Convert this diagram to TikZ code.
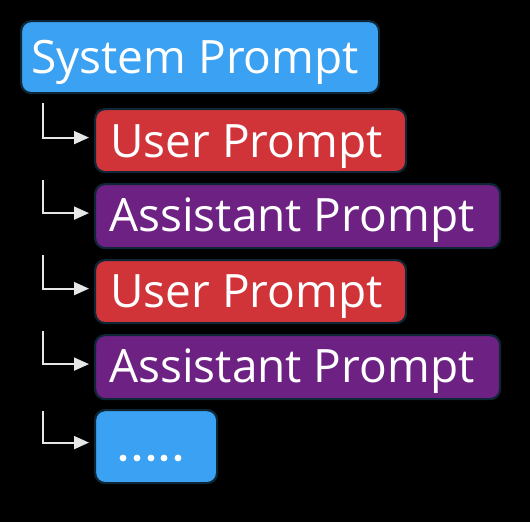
\documentclass[tikz,border=0pt]{standalone}
\usepackage{fontspec}
\setmainfont{Open Sans}
\usetikzlibrary{arrows.meta}
\definecolor{sysblue}{HTML}{3BA1F2}
\definecolor{userred}{HTML}{D13438}
\definecolor{asstpurple}{HTML}{6D2183}
\definecolor{edge}{HTML}{0E2636}
\definecolor{linkgray}{HTML}{E6E6E6}
\begin{document}
\begin{tikzpicture}[x=1pt,y=-1pt,
  box/.style={draw=edge, line width=2.2pt, rounded corners=10pt, inner sep=0pt, anchor=north west},
  label/.style={anchor=base west, inner sep=0pt, text=white, font=\fontsize{46}{52}\selectfont},
  link/.style={draw=linkgray, line width=1.8pt, -{Triangle[length=15pt,width=13pt]}}
]
\fill[black] (0,0) rectangle (530,522);
\useasboundingbox (0,0) rectangle (530,522);

% message boxes
\node[box, fill=sysblue, minimum width=358pt, minimum height=72pt] (sys) at (20,20) {};
\node[box, fill=userred, minimum width=311pt, minimum height=63pt] (u1) at (94,108) {};
\node[box, fill=asstpurple, minimum width=405pt, minimum height=64pt] (a1) at (94,183) {};
\node[box, fill=userred, minimum width=311pt, minimum height=63pt] (u2) at (94,259) {};
\node[box, fill=asstpurple, minimum width=405pt, minimum height=64pt] (a2) at (94,334) {};
\node[box, fill=sysblue, minimum width=122pt, minimum height=73pt] (more) at (94,409) {};

% texts
\node[label] (syst) at (31,73) {System Prompt};
\node[label] (u1t) at (110,157) {User Prompt};
\node[label] (a1t) at (109,231) {Assistant Prompt};
\node[label] (u2t) at (110,307) {User Prompt};
\node[label] (a2t) at (109,382) {Assistant Prompt};
\foreach \i [count=\k] in {123,137,151,164,178}
  \fill[white] (\i,458) circle (3.4pt);

% branch connectors
\coordinate (s1) at (43,103);
\coordinate (s2) at (43,180);
\coordinate (s3) at (43,255);
\coordinate (s4) at (43,331);
\coordinate (s5) at (43,411);
\draw[link] (s1) |- ([xshift=-5pt,yshift=3pt]u1.west);
\draw[link] (s2) |- ([xshift=-5pt,yshift=3pt]a1.west);
\draw[link] (s3) |- ([xshift=-5pt,yshift=3pt]u2.west);
\draw[link] (s4) |- ([xshift=-5pt,yshift=3pt]a2.west);
\draw[link] (s5) |- ([xshift=-5pt,yshift=4pt]more.west);
\end{tikzpicture}
\end{document}
